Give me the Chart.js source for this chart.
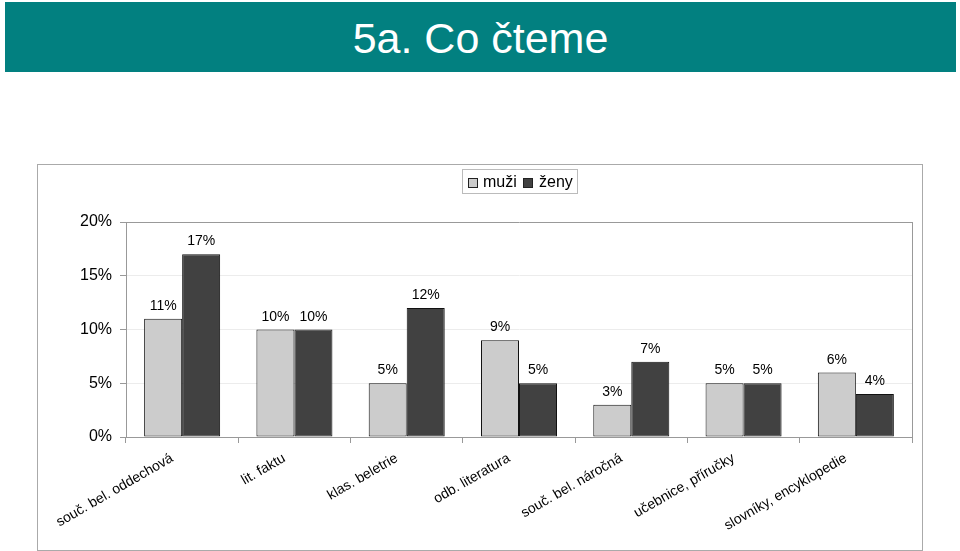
<!DOCTYPE html>
<html>
<head>
<meta charset="utf-8">
<script src="https://cdn.jsdelivr.net/npm/chart.js@4/dist/chart.umd.min.js"></script>
<style>
    body { margin: 0; background: #fff; font-family: "Liberation Sans", Arial, sans-serif; }
    #page { position: relative; width: 960px; height: 551px; overflow: hidden; }
    #title {
        position: absolute; left: 5px; top: 2px; width: 951px; height: 70px;
        background: #028080; color: #fff; font-size: 43px; line-height: 72px;
        text-align: center;
    }
    #box {
        position: absolute; left: 37px; top: 164px; width: 884px; height: 385px;
        border: 1px solid #aaa;
    }
    #chart { position: absolute; left: 0; top: 0; }
    #legend {
        position: absolute; left: 424px; top: 4px; width: 114px; height: 23px;
        border: 1px solid #bbb; font-size: 16px; line-height: 23px; color: #000;
    }
    .sw { position: absolute; top: 8px; width: 8px; height: 8px; border: 1px solid #222; }
    .lbl { position: absolute; top: 0; }
</style>
</head>
<body>
<div id="page">
    <div id="title">5a. Co čteme</div>
    <div id="box">
        <canvas id="chart" width="884" height="385"></canvas>
        <div id="legend">
            <span class="sw" id="sw0" style="left:5px"></span><span class="lbl" id="lb0" style="left:20px"></span>
            <span class="sw" id="sw1" style="left:60px"></span><span class="lbl" id="lb1" style="left:76px"></span>
        </div>
    </div>
</div>
<script>
// --- data ---
const categories = [
    'souč. bel. oddechová',
    'lit. faktu',
    'klas. beletrie',
    'odb. literatura',
    'souč. bel. náročná',
    'učebnice, příručky',
    'slovníky, encyklopedie'
];
const seriesNames = ['muži', 'ženy'];
const muzi = [11, 10, 5, 9, 3, 5, 6];
const zeny = [17, 10, 12, 5, 7, 5, 4];
const yTicks = [0, 5, 10, 15, 20];

const colors = ['#cccccc', '#414141'];
const FONT = '"Liberation Sans", Arial, sans-serif';

// legend (html)
seriesNames.forEach((name, i) => {
    document.getElementById('lb' + i).innerText = name;
    document.getElementById('sw' + i).style.background = colors[i];
});

// value labels above bars
const valueLabels = {
    id: 'valueLabels',
    afterDatasetsDraw(chart) {
        const ctx = chart.ctx;
        ctx.save();
        ctx.font = '14px ' + FONT;
        ctx.fillStyle = '#000';
        ctx.textAlign = 'center';
        ctx.textBaseline = 'alphabetic';
        chart.data.datasets.forEach((ds, di) => {
            chart.getDatasetMeta(di).data.forEach((bar, i) => {
                ctx.fillText(ds.data[i] + '%', bar.x, bar.y - 9);
            });
        });
        ctx.restore();
    }
};

const ctx = document.getElementById('chart').getContext('2d');
const chart = new Chart(ctx, {
    type: 'bar',
    data: {
        labels: categories,
        datasets: [
            {
                label: seriesNames[0],
                data: muzi,
                backgroundColor: colors[0],
                borderColor: '#111',
                borderWidth: 1,
                borderSkipped: false,
                categoryPercentage: 0.677,
                barPercentage: 1.0
            },
            {
                label: seriesNames[1],
                data: zeny,
                backgroundColor: colors[1],
                borderColor: '#111',
                borderWidth: 1,
                borderSkipped: false,
                categoryPercentage: 0.677,
                barPercentage: 1.0
            }
        ]
    },
    options: {
        responsive: false,
        animation: false,
        devicePixelRatio: 1,
        layout: { padding: { top: 57, right: 10, left: 0, bottom: 0 } },
        plugins: {
            legend: { display: false },
            tooltip: { enabled: false }
        },
        scales: {
            x: {
                offset: true,
                grid: {
                    offset: true,
                    color: (c) => c.type === 'scale' ? '#999' : 'rgba(0,0,0,0)',
                    tickColor: '#999',
                    tickLength: 6
                },
                border: { display: true, color: '#999' },
                ticks: {
                    font: { family: FONT, size: 14 },
                    color: '#000',
                    minRotation: 30,
                    maxRotation: 30,
                    autoSkip: false,
                    padding: 7,
                    labelOffset: -10
                },
                afterFit: (s) => { s.height = 113; s.paddingLeft = 0; s.paddingRight = 0; }
            },
            y: {
                min: 0,
                max: 20,
                afterBuildTicks: (s) => { s.ticks = yTicks.map(v => ({ value: v })); },
                grid: {
                    color: (c) => (c.tick && c.tick.value === 20) ? '#999' : '#ececec',
                    tickColor: '#999',
                    tickLength: 6
                },
                border: { display: true, color: '#999' },
                ticks: {
                    font: { family: FONT, size: 16 },
                    color: '#000',
                    padding: 8,
                    callback: (v) => v + '%'
                },
                afterFit: (s) => { s.width = 88; }
            }
        }
    },
    plugins: [valueLabels]
});
</script>
</body>
</html>
